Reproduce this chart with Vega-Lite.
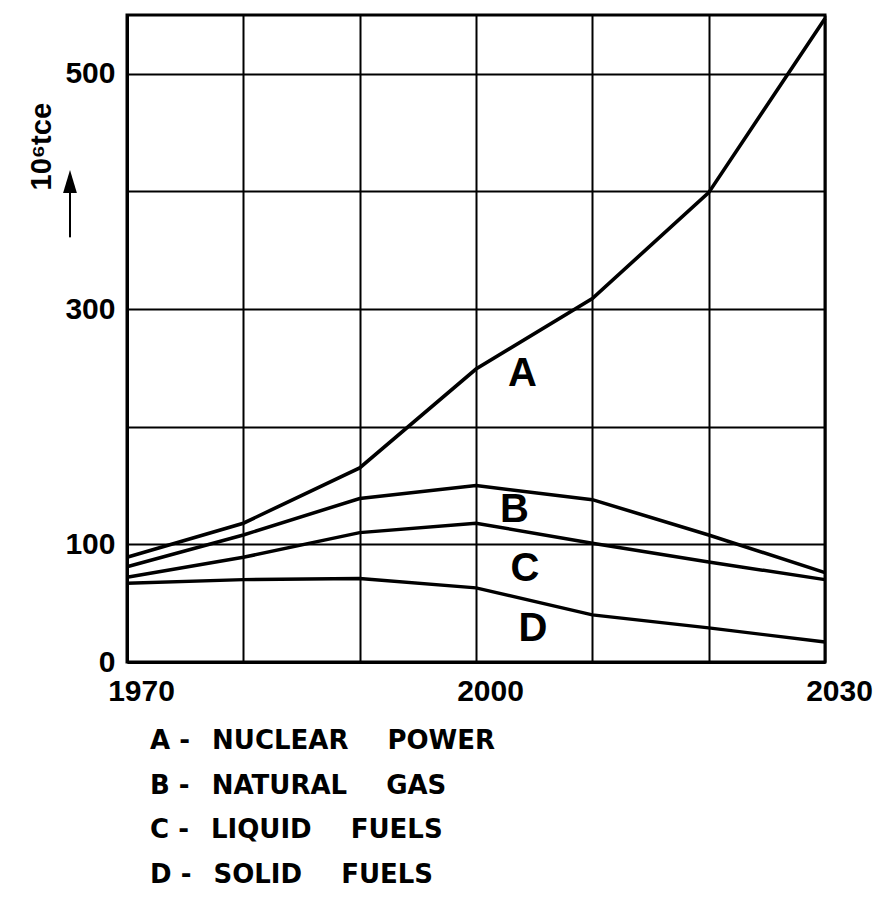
{
  "$schema": "https://vega.github.io/schema/vega-lite/v6.json",
  "width": 698,
  "height": 647,
  "autosize": {"type": "none"},
  "padding": {"left": 127, "top": 15, "right": 57, "bottom": 253},
  "background": "white",
  "config": {
    "view": {"stroke": "black", "strokeWidth": 3},
    "axis": {
      "grid": true, "gridColor": "black", "gridOpacity": 1, "gridWidth": 2,
      "ticks": false, "domainColor": "black", "domainWidth": 3,
      "labelFont": "Liberation Sans", "labelFontWeight": "bold", "labelFontSize": 30, "labelColor": "black",
      "labelFlush": false, "labelOverlap": false
    }
  },
  "title": {
    "text": ["A - \u2002NUCLEAR\u2003\u2002POWER", "B - \u2002NATURAL\u2003\u2002GAS", "C - \u2002LIQUID\u2003\u2002FUELS", "D - \u2002SOLID\u2003\u2002FUELS"],
    "orient": "bottom", "anchor": "start", "frame": "group", "dx": 23, "offset": 22,
    "font": "DejaVu Sans", "fontWeight": "bold", "fontSize": 26, "lineHeight": 44.5, "color": "black"
  },
  "data": {"values": [
    {"series": "A", "year": 1970, "value": 89},
    {"series": "A", "year": 1980, "value": 118},
    {"series": "A", "year": 1990, "value": 165},
    {"series": "A", "year": 2000, "value": 249},
    {"series": "A", "year": 2010, "value": 309},
    {"series": "A", "year": 2020, "value": 399},
    {"series": "A", "year": 2030, "value": 547},
    {"series": "B", "year": 1970, "value": 81},
    {"series": "B", "year": 1980, "value": 108},
    {"series": "B", "year": 1990, "value": 139},
    {"series": "B", "year": 2000, "value": 150},
    {"series": "B", "year": 2010, "value": 138},
    {"series": "B", "year": 2020, "value": 108},
    {"series": "B", "year": 2030, "value": 76},
    {"series": "C", "year": 1970, "value": 72},
    {"series": "C", "year": 1980, "value": 89},
    {"series": "C", "year": 1990, "value": 110},
    {"series": "C", "year": 2000, "value": 118},
    {"series": "C", "year": 2010, "value": 101},
    {"series": "C", "year": 2020, "value": 85},
    {"series": "C", "year": 2030, "value": 70},
    {"series": "D", "year": 1970, "value": 67},
    {"series": "D", "year": 1980, "value": 70},
    {"series": "D", "year": 1990, "value": 71},
    {"series": "D", "year": 2000, "value": 63},
    {"series": "D", "year": 2010, "value": 40},
    {"series": "D", "year": 2020, "value": 29},
    {"series": "D", "year": 2030, "value": 17}
  ]},
  "layer": [
    {
      "mark": {"type": "line", "color": "black"},
      "encoding": {
        "x": {
          "field": "year", "type": "quantitative",
          "scale": {"domain": [1970, 2030], "nice": false, "zero": false},
          "axis": {
            "title": null, "values": [1970, 1980, 1990, 2000, 2010, 2020, 2030], "format": "d",
            "labelExpr": "datum.value == 1970 || datum.value == 2000 || datum.value == 2030 ? datum.label : ''",
            "labelPadding": 14, "labelOffset": 14
          }
        },
        "y": {
          "field": "value", "type": "quantitative",
          "scale": {"domain": [0, 550], "nice": false},
          "axis": {
            "values": [0, 100, 200, 300, 400, 500],
            "labelExpr": "datum.value == 200 || datum.value == 400 ? '' : datum.label",
            "labelPadding": 12,
            "title": "10\u2076tce",
            "titleAngle": -90, "titleAlign": "left", "titleBaseline": "alphabetic",
            "titleX": -77, "titleY": 175,
            "titleFont": "Liberation Sans", "titleFontWeight": "bold", "titleFontSize": 29,
            "titleColor": "black"
          }
        },
        "detail": {"field": "series"},
        "strokeWidth": {"field": "series", "type": "nominal", "scale": {"domain": ["A", "B", "C", "D"], "range": [3.6, 3.4, 5, 3.4]}, "legend": null}
      }
    },
    {
      "data": {"values": [{}]},
      "mark": {"type": "rule", "color": "black", "strokeWidth": 2, "clip": false},
      "encoding": {"x": {"datum": 1965.1}, "y": {"datum": 361}, "y2": {"datum": 402}}
    },
    {
      "data": {"values": [{}]},
      "mark": {"type": "point", "shape": "M-0.6,1L0,-1L0.6,1Z", "size": 529, "filled": true, "color": "black", "opacity": 1, "clip": false},
      "encoding": {"x": {"datum": 1965.1}, "y": {"datum": 408.5}}
    },
    {
      "data": {"values": [{}]},
      "mark": {"type": "text", "text": "A", "font": "Liberation Sans", "fontWeight": "bold", "fontSize": 40, "color": "black", "baseline": "middle", "align": "center"},
      "encoding": {"x": {"datum": 2004}, "y": {"datum": 245}}
    },
    {
      "data": {"values": [{}]},
      "mark": {"type": "text", "text": "B", "font": "Liberation Sans", "fontWeight": "bold", "fontSize": 40, "color": "black", "baseline": "middle", "align": "center"},
      "encoding": {"x": {"datum": 2003.3}, "y": {"datum": 129}}
    },
    {
      "data": {"values": [{}]},
      "mark": {"type": "text", "text": "C", "font": "Liberation Sans", "fontWeight": "bold", "fontSize": 40, "color": "black", "baseline": "middle", "align": "center"},
      "encoding": {"x": {"datum": 2004.2}, "y": {"datum": 79}}
    },
    {
      "data": {"values": [{}]},
      "mark": {"type": "text", "text": "D", "font": "Liberation Sans", "fontWeight": "bold", "fontSize": 40, "color": "black", "baseline": "middle", "align": "center"},
      "encoding": {"x": {"datum": 2004.9}, "y": {"datum": 28}}
    }
  ]
}
